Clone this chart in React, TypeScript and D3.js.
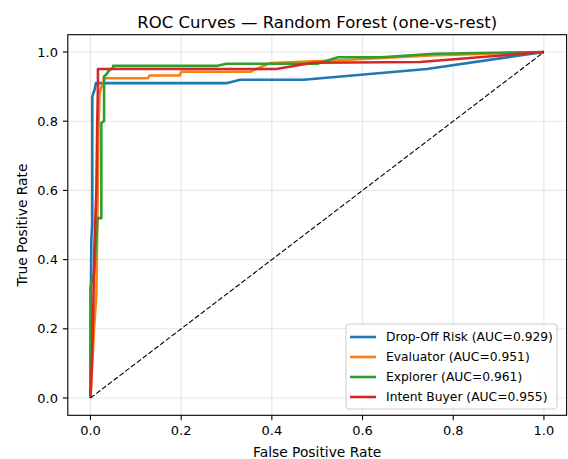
import React from "react";
import * as d3 from "d3";

const W = 568;
const H = 459;

const seriesNames = ["Drop-Off Risk", "Evaluator", "Explorer", "Intent Buyer"];
const aucValues = [0.929, 0.951, 0.961, 0.955];
const colors = ["#1f77b4", "#ff7f0e", "#2ca02c", "#d62728"];

const dropOffFpr = [0, 0, 0.001, 0.002, 0.004, 0.004, 0.006, 0.009, 0.012, 0.3, 0.33, 0.47, 0.742, 1];
const dropOffTpr = [0, 0.05, 0.3, 0.46, 0.5, 0.87, 0.88, 0.89, 0.91, 0.91, 0.92, 0.92, 0.951, 1];

const evaluatorFpr = [0, 0.004, 0.008, 0.013, 0.015, 0.018, 0.02, 0.024, 0.029, 0.029, 0.127, 0.13, 0.197, 0.2, 0.352, 0.396, 0.55, 0.75, 1];
const evaluatorTpr = [0, 0.1, 0.2, 0.3, 0.5, 0.8, 0.88, 0.9, 0.905, 0.924, 0.924, 0.932, 0.932, 0.943, 0.943, 0.968, 0.976, 0.99, 1];

const explorerFpr = [0, 0, 0.008, 0.015, 0.015, 0.024, 0.024, 0.03, 0.03, 0.035, 0.04, 0.05, 0.05, 0.28, 0.3, 0.5, 0.546, 0.64, 0.76, 1];
const explorerTpr = [0, 0.32, 0.36, 0.5, 0.52, 0.52, 0.795, 0.8, 0.93, 0.935, 0.945, 0.955, 0.96, 0.96, 0.966, 0.966, 0.985, 0.985, 0.995, 1];

const intentFpr = [0, 0.003, 0.006, 0.009, 0.013, 0.015, 0.0165, 0.0165, 0.41, 0.49, 0.727, 1];
const intentTpr = [0, 0.1, 0.25, 0.45, 0.6, 0.8, 0.9, 0.951, 0.951, 0.969, 0.971, 1];

const fprList = [dropOffFpr, evaluatorFpr, explorerFpr, intentFpr];
const tprList = [dropOffTpr, evaluatorTpr, explorerTpr, intentTpr];

const tickValues = [0, 0.2, 0.4, 0.6, 0.8, 1.0];

const FONT = "DejaVu Sans, sans-serif";

export default function App() {
  const left = 67.8;
  const right = 566.6;
  const top = 34.7;
  const bottom = 415.3;
  const x = d3.scaleLinear().domain([-0.05, 1.05]).range([left, right]);
  const y = d3.scaleLinear().domain([-0.05, 1.05]).range([bottom, top]);

  const line = d3
    .line<[number, number]>()
    .x((d) => x(d[0]))
    .y((d) => y(d[1]));

  const curves = fprList.map((f, i) => f.map((v, j) => [v, tprList[i][j]] as [number, number]));

  const legendX = 346;
  const legendY = 324;
  const legendW = 211;
  const legendH = 85;
  const rowH = 20;

  return (
    <svg width={W} height={H} style={{ position: "absolute", left: 0, top: 0, background: "#fff" }} fontFamily={FONT}>
      <rect x={0} y={0} width={W} height={H} fill="#fff" />
      <defs>
        <clipPath id="plotclip">
          <rect x={left} y={top} width={right - left} height={bottom - top} />
        </clipPath>
      </defs>
      {/* grid */}
      <g stroke="#b0b0b0" strokeOpacity={0.3} strokeWidth={1.1}>
        {tickValues.map((t) => (
          <line key={"gx" + t} x1={x(t)} x2={x(t)} y1={top} y2={bottom} />
        ))}
        {tickValues.map((t) => (
          <line key={"gy" + t} x1={left} x2={right} y1={y(t)} y2={y(t)} />
        ))}
      </g>
      {/* curves */}
      <g clipPath="url(#plotclip)" fill="none" strokeLinejoin="round" strokeLinecap="butt">
        {curves.map((c, i) => (
          <path key={i} d={line(c) || ""} stroke={colors[i]} strokeWidth={2.6} />
        ))}
        <path
          d={line([[0, 0], [1, 1]]) || ""}
          stroke="#000"
          strokeWidth={1.1}
          strokeDasharray="5.1,2.2"
        />
      </g>
      {/* spines */}
      <rect x={left} y={top} width={right - left} height={bottom - top} fill="none" stroke="#000" strokeWidth={1.1} />
      {/* ticks */}
      <g stroke="#000" strokeWidth={1.1}>
        {tickValues.map((t) => (
          <line key={"tx" + t} x1={x(t)} x2={x(t)} y1={bottom} y2={bottom + 4.9} />
        ))}
        {tickValues.map((t) => (
          <line key={"ty" + t} x1={left} x2={left - 4.9} y1={y(t)} y2={y(t)} />
        ))}
      </g>
      <g fontSize={13} fill="#000">
        {tickValues.map((t) => (
          <text key={"lx" + t} x={x(t)} y={bottom + 9.8} textAnchor="middle" dominantBaseline="hanging">
            {t.toFixed(1)}
          </text>
        ))}
        {tickValues.map((t) => (
          <text key={"ly" + t} x={left - 9.8} y={y(t)} textAnchor="end" dominantBaseline="central">
            {t.toFixed(1)}
          </text>
        ))}
      </g>
      <text x={(left + right) / 2} y={457} fontSize={13.8} textAnchor="middle" fill="#000">
        False Positive Rate
      </text>
      <text
        transform={`translate(${27},${(top + bottom) / 2}) rotate(-90)`}
        fontSize={13.8}
        textAnchor="middle"
        fill="#000"
      >
        True Positive Rate
      </text>
      <text x={(left + right) / 2} y={28} fontSize={16.5} textAnchor="middle" fill="#000">
        ROC Curves — Random Forest (one-vs-rest)
      </text>
      {/* legend */}
      <g>
        <rect
          x={legendX}
          y={legendY}
          width={legendW}
          height={legendH}
          rx={3}
          ry={3}
          fill="#fff"
          fillOpacity={0.8}
          stroke="#cccccc"
          strokeWidth={1}
        />
        {seriesNames.map((name, i) => {
          const cy = legendY + 13 + i * rowH;
          return (
            <g key={name}>
              <line x1={legendX + 4} x2={legendX + 30} y1={cy} y2={cy} stroke={colors[i]} strokeWidth={2.6} />
              <text x={legendX + 40} y={cy} fontSize={12.3} dominantBaseline="central" fill="#000">
                {`${name} (AUC=${aucValues[i].toFixed(3)})`}
              </text>
            </g>
          );
        })}
      </g>
    </svg>
  );
}
